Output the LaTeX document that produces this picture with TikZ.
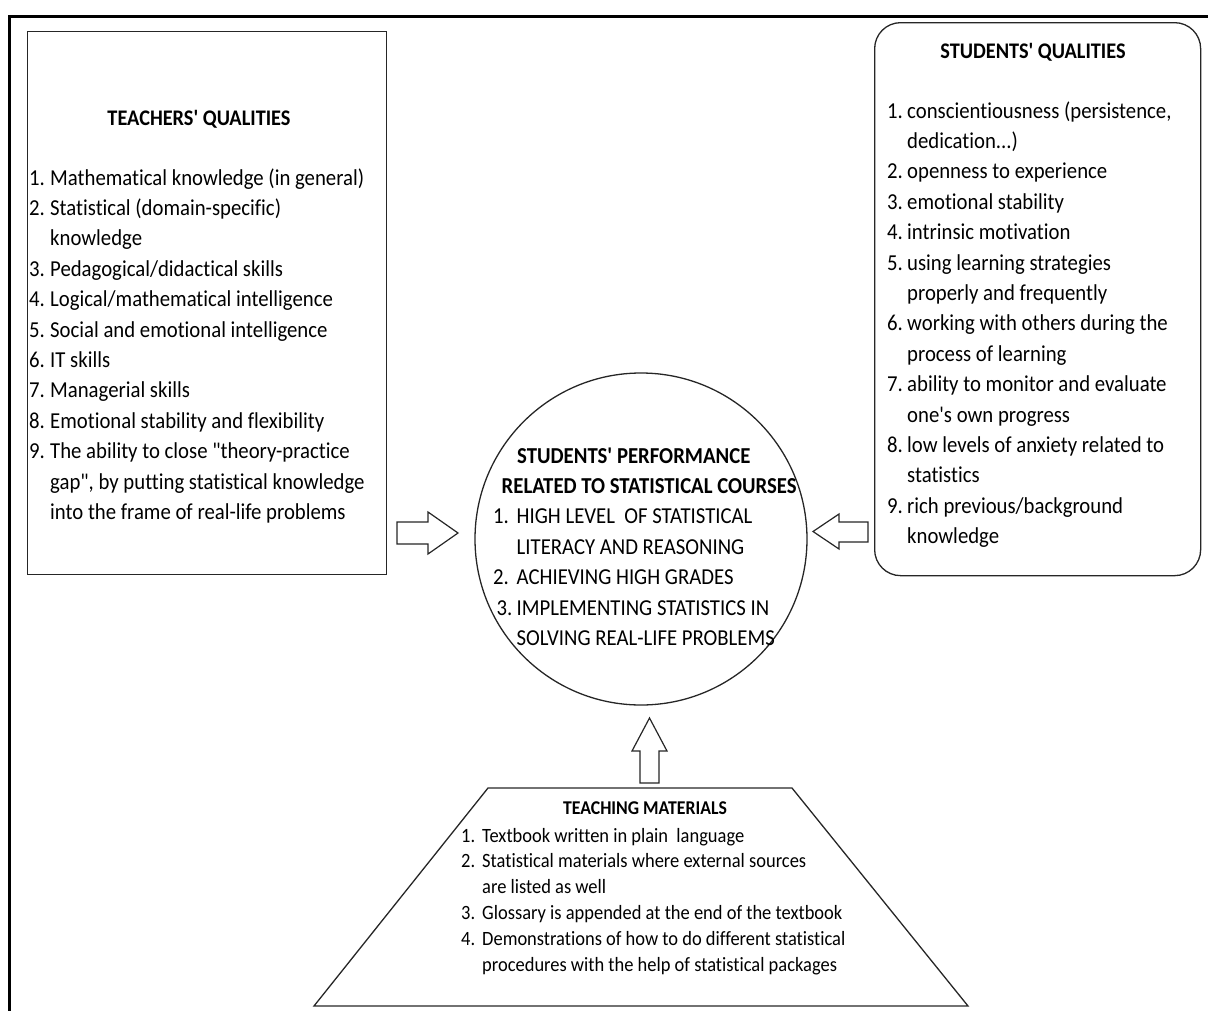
\documentclass[tikz,border=0pt]{standalone}
\usepackage{fontspec}
\setmainfont{Carlito}[FakeStretch=0.91, Ligatures={TeXOff,CommonOff}]
\newcommand{\nb}[2]{\makebox[#1][l]{#2}}
\begin{document}
\begin{tikzpicture}[x=1pt,y=-1pt,
  box/.style={draw=black!85, line width=1.3pt},
  blockarr/.style={draw=black!85, line width=1.2pt, fill=white, line join=miter},
  bigtxt/.style={inner sep=0pt, anchor=base west, font=\fontsize{22.8}{30.4}\selectfont},
  bigtitle/.style={inner sep=0pt, anchor=base, font=\fontsize{22.3}{30.4}\selectfont\bfseries},
  smalltxt/.style={inner sep=0pt, anchor=base west, font=\fontsize{20.3}{25.8}\selectfont},
  smalltitle/.style={inner sep=0pt, anchor=base, font=\fontsize{19.5}{25.8}\selectfont\bfseries}]
\useasboundingbox (0,0) rectangle (1208,1010);
% outer frame
\draw[line width=3pt] (9,1012) -- (9,16) -- (1210,16);
% teachers box
\node[box, rectangle, inner sep=0pt, anchor=north west, minimum width=359pt, minimum height=543pt] (teach) at (27,31) {};
\node[bigtitle] (teachT) at (199,125) {TEACHERS' QUALITIES};
\node[bigtxt] (teachL) at (29,185) {\begin{tabular}[t]{@{}l@{}}
\nb{21pt}{1.}Mathematical knowledge (in general)\\
\nb{21pt}{2.}Statistical (domain-specific)\\
\hspace{21pt}knowledge\\
\nb{21pt}{3.}Pedagogical/didactical skills\\
\nb{21pt}{4.}Logical/mathematical intelligence\\
\nb{21pt}{5.}Social and emotional intelligence\\
\nb{21pt}{6.}IT skills\\
\nb{21pt}{7.}Managerial skills\\
\nb{21pt}{8.}Emotional stability and flexibility\\
\nb{21pt}{9.}The ability to close "theory-practice\\
\hspace{21pt}gap", by putting statistical knowledge\\
\hspace{21pt}into the frame of real-life problems
\end{tabular}};
% students box
\node[box, rectangle, rounded corners=26pt, inner sep=0pt, anchor=north west, minimum width=326pt, minimum height=553pt] (stud) at (874,22) {};
\node[bigtitle] (studT) at (1033,58) {STUDENTS' QUALITIES};
\node[bigtxt] (studL) at (887,118) {\begin{tabular}[t]{@{}l@{}}
\nb{20pt}{1.}conscientiousness (persistence,\\
\hspace{20pt}dedication...)\\
\nb{20pt}{2.}openness to experience\\
\nb{20pt}{3.}emotional stability\\
\nb{20pt}{4.}intrinsic motivation\\
\nb{20pt}{5.}using learning strategies\\
\hspace{20pt}properly and frequently\\
\nb{20pt}{6.}working with others during the\\
\hspace{20pt}process of learning\\
\nb{20pt}{7.}ability to monitor and evaluate\\
\hspace{20pt}one's own progress\\
\nb{20pt}{8.}low levels of anxiety related to\\
\hspace{20pt}statistics\\
\nb{20pt}{9.}rich previous/background\\
\hspace{20pt}knowledge
\end{tabular}};
% performance circle
\node[box, circle, inner sep=0pt, minimum size=332pt] (perf) at (641,539) {};
\node[bigtxt] (perfL) at (493,463) {\begin{tabular}[t]{@{}l@{}}
\hspace{24pt}\textbf{STUDENTS' PERFORMANCE}\\
\hspace{8.5pt}\textbf{RELATED TO STATISTICAL COURSES}\\
\nb{23.5pt}{1.}HIGH LEVEL\ \ OF STATISTICAL\\
\hspace{23.5pt}LITERACY AND REASONING\\
\nb{23.5pt}{2.}ACHIEVING HIGH GRADES\\
\hspace{3.5pt}\nb{20pt}{3.}IMPLEMENTING STATISTICS IN\\
\hspace{23.5pt}SOLVING REAL-LIFE PROBLEMS
\end{tabular}};
% teaching materials trapezoid
\coordinate (tmTL) at (488,788);
\coordinate (tmTR) at (792,788);
\coordinate (tmBR) at (968,1006);
\coordinate (tmBL) at (314,1006);
\draw[box, line join=miter] (tmTL) -- (tmTR) -- (tmBR) -- (tmBL) -- cycle;
\node[smalltitle] (teachmT) at (645,814) {TEACHING MATERIALS};
\node[smalltxt] (teachmL) at (461,842) {\begin{tabular}[t]{@{}l@{}}
\nb{21pt}{1.}Textbook written in plain\ \ language\\
\nb{21pt}{2.}Statistical materials where external sources\\
\hspace{21pt}are listed as well\\
\nb{21pt}{3.}Glossary is appended at the end of the textbook\\
\nb{21pt}{4.}Demonstrations of how to do different statistical\\
\hspace{21pt}procedures with the help of statistical packages
\end{tabular}};
% block arrows
\draw[blockarr] (397,522) -- (428,522) -- (428,512) -- (458,533) -- (428,554) -- (428,544) -- (397,544) -- cycle;
\draw[blockarr] (868,522) -- (839,522) -- (839,514) -- (813,531.5) -- (839,549) -- (839,542) -- (868,542) -- cycle;
\draw[blockarr] (640,783) -- (640,751) -- (632,751) -- (649.5,718) -- (667,751) -- (659,751) -- (659,783) -- cycle;
\end{tikzpicture}
\end{document}
